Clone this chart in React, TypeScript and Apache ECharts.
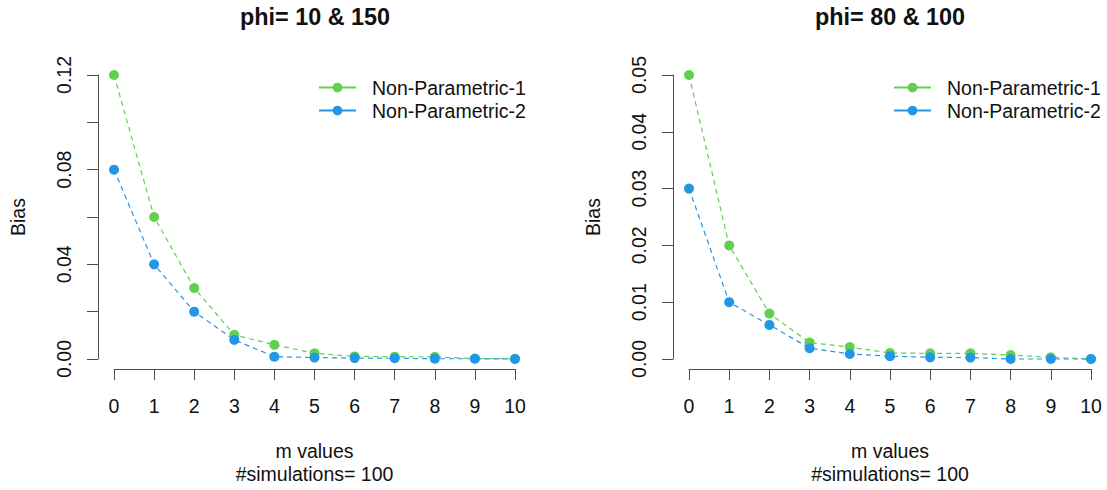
import React, { useEffect, useRef } from "react";
import * as echarts from "echarts";

const mValues = [0, 1, 2, 3, 4, 5, 6, 7, 8, 9, 10];
const seriesNames = ["Non-Parametric-1", "Non-Parametric-2"];
const titles = ["phi= 10 & 150", "phi= 80 & 100"];

const leftNP1 = [0.12, 0.06, 0.03, 0.0102, 0.006, 0.0024, 0.0011, 0.001, 0.0009, 0.0002, 0.0001];
const leftNP2 = [0.08, 0.04, 0.02, 0.0081, 0.001, 0.0006, 0.0004, 0.0003, 0.0001, 0.0001, 0.0];
const rightNP1 = [0.05, 0.02, 0.008, 0.0029, 0.0021, 0.00105, 0.001, 0.001, 0.0007, 0.0003, 0.0];
const rightNP2 = [0.03, 0.01, 0.006, 0.0019, 0.0009, 0.0005, 0.0003, 0.00025, 0.0, 0.0, 0.0];

const GREEN = "#61D04F";
const BLUE = "#2297E6";
const FONT = "Liberation Sans";
const TEXT = "#111111";
const AXIS = "#4d4d4d";
const FS = 19.5;

function pairs(ys: number[]) {
  return mValues.map((x, i) => [x, ys[i]]);
}

export default function App() {
  const ref = useRef<HTMLDivElement>(null);
  useEffect(() => {
    if (!ref.current) return;
    const chart = echarts.init(ref.current, null, { renderer: "svg" });
    const axisLine = { show: true, onZero: false, lineStyle: { color: AXIS, width: 1 } };
    const axisTick = { show: true, length: 11, lineStyle: { color: AXIS, width: 1 } };
    const mkX = (gi: number) => ({
      type: "value",
      gridIndex: gi,
      min: 0,
      max: 10,
      interval: 1,
      offset: 10,
      axisLine,
      axisTick,
      splitLine: { show: false },
      axisLabel: { color: TEXT, fontFamily: FONT, fontSize: FS, margin: 27 },
      name: "m values\n#simulations= 100",
      nameLocation: "middle",
      nameGap: 70,
      nameTextStyle: { color: TEXT, fontFamily: FONT, fontSize: FS, lineHeight: 23, verticalAlign: "top" },
    });
    const mkY = (gi: number, max: number, interval: number, every: number) => ({
      type: "value",
      gridIndex: gi,
      min: 0,
      max,
      interval,
      offset: 16,
      axisLine,
      axisTick,
      splitLine: { show: false },
      axisLabel: {
        color: TEXT,
        fontFamily: FONT,
        fontSize: FS,
        rotate: 90,
        margin: 24,
        formatter: (v: number, i: number) => (i % every === 0 ? v.toFixed(2) : ""),
      },
      name: "Bias",
      nameLocation: "middle",
      nameGap: 70,
      nameTextStyle: { color: TEXT, fontFamily: FONT, fontSize: FS },
    });
    const mkSeries = (name: string, color: string, ys: number[], gi: number) => ({
      type: "line",
      name,
      xAxisIndex: gi,
      yAxisIndex: gi,
      data: pairs(ys),
      symbol: "circle",
      symbolSize: 10,
      clip: false,
      itemStyle: { color },
      lineStyle: { color, width: 1.2, type: [5, 4] },
    });
    const mkLegend = (left: number, names: string[]) => ({
      orient: "vertical",
      left,
      top: 77,
      itemWidth: 37,
      itemHeight: 12,
      itemGap: 2,
      padding: 0,
      lineStyle: { type: "solid", width: 2 },
      textStyle: { color: TEXT, fontFamily: FONT, fontSize: FS, lineHeight: 21, padding: [0, 0, 0, 11] },
      data: names.map((n) => ({ name: n })),
    });
    const titleStyle = { color: TEXT, fontFamily: FONT, fontSize: 23.4, fontWeight: "bold" };
    chart.setOption({
      animation: false,
      backgroundColor: "#ffffff",
      title: [
        { text: titles[0], left: 315, top: 5, textAlign: "center", padding: 0, textStyle: titleStyle },
        { text: titles[1], left: 890, top: 5, textAlign: "center", padding: 0, textStyle: titleStyle },
      ],
      grid: [
        { left: 114, top: 75, width: 401, height: 285 },
        { left: 689, top: 75, width: 402, height: 285 },
      ],
      xAxis: [mkX(0), mkX(1)],
      yAxis: [mkY(0, 0.12, 0.02, 2), mkY(1, 0.05, 0.01, 1)],
      legend: [
        mkLegend(318, seriesNames),
        mkLegend(893, seriesNames.map((n) => n + " ")),
      ],
      series: [
        mkSeries(seriesNames[0], GREEN, leftNP1, 0),
        mkSeries(seriesNames[1], BLUE, leftNP2, 0),
        mkSeries(seriesNames[0] + " ", GREEN, rightNP1, 1),
        mkSeries(seriesNames[1] + " ", BLUE, rightNP2, 1),
      ],
    } as any);
    return () => chart.dispose();
  }, []);
  return (
    <div
      ref={ref}
      style={{ position: "absolute", left: 0, top: 0, width: 1107, height: 490, background: "#fff" }}
    />
  );
}
